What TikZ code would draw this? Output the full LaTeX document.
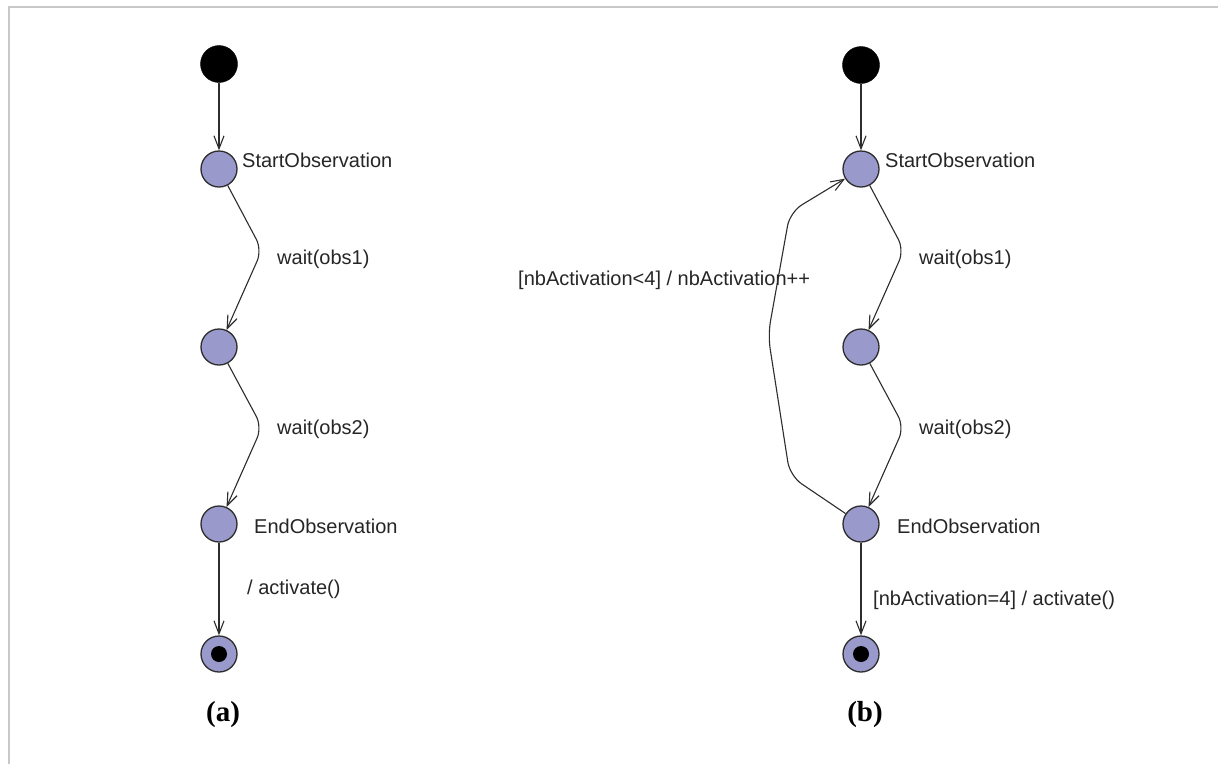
\documentclass[tikz,border=0pt]{standalone}
\usepackage{fontspec}
\setmainfont{Liberation Serif}
\newfontfamily\arialfont{Liberation Sans}
\usetikzlibrary{arrows.meta}
\definecolor{statefill}{RGB}{153,153,204}
\definecolor{edgecol}{RGB}{45,45,45}
\definecolor{framecol}{RGB}{200,200,200}
\tikzset{
  initst/.style={circle, fill=black, draw=black, minimum size=37pt, inner sep=0pt},
  state/.style={circle, fill=statefill, draw=edgecol, line width=1.3pt, minimum size=36pt, inner sep=0pt},
  finalst/.style={circle, fill=statefill, draw=edgecol, line width=1.3pt, minimum size=36pt, inner sep=0pt},
  dotst/.style={circle, fill=black, minimum size=16pt, inner sep=0pt},
  tr/.style={draw=edgecol, line width=1.1pt, -{Straight Barb[length=13pt,width=10pt,line width=1.1pt]}},
  lbl/.style={font=\arialfont\fontsize{20}{24}\selectfont, text=black!85, inner sep=0pt, anchor=base west},
  figcaption/.style={font=\bfseries\fontsize{29}{34}\selectfont, inner sep=0pt}
}
\begin{document}
\begin{tikzpicture}[x=1pt,y=-1pt]
\useasboundingbox (0,0) rectangle (1218,764);
\fill[white] (0,0) rectangle (1218,764);
\draw[framecol, line width=2pt] (9,764) -- (9,7) -- (1218,7);

% ---------- (a) ----------
\node[initst] (ia) at (219,64) {};
\node[state] (sa) at (219,169) {};
\node[state] (ma) at (219,347) {};
\node[state] (ea) at (219,524) {};
\node[finalst] (fa) at (219,654) {};
\node[dotst] (da) at (219,654) {};
\coordinate (ba1) at (262,250);
\coordinate (ba2) at (262,427);

\draw[tr] (ia) -- (sa);
\draw[tr, rounded corners=12pt] (sa) -- (ba1) -- (ma);
\draw[tr, rounded corners=12pt] (ma) -- (ba2) -- (ea);
\draw[tr] (ea) -- (fa);

\node[lbl] (la1) at (242,167) {StartObservation};
\node[lbl] (la2) at (277,264) {wait(obs1)};
\node[lbl] (la3) at (277,434) {wait(obs2)};
\node[lbl] (la4) at (254,533) {EndObservation};
\node[lbl] (la5) at (247,594) {/ activate()};
\node[figcaption] (capa) at (223,715) {(a)};

% ---------- (b) ----------
\node[initst] (ib) at (861,65) {};
\node[state] (sb) at (861,169) {};
\node[state] (mb) at (861,347) {};
\node[state] (eb) at (861,524) {};
\node[finalst] (fb) at (861,654) {};
\node[dotst] (db) at (861,654) {};
\coordinate (bb1) at (904,250);
\coordinate (bb2) at (904,427);
\coordinate (lp1) at (790,476);
\coordinate (lp2) at (768,335);
\coordinate (lp3) at (790,212);

\draw[tr] (ib) -- (sb);
\draw[tr, rounded corners=12pt] (sb) -- (bb1) -- (mb);
\draw[tr, rounded corners=12pt] (mb) -- (bb2) -- (eb);
\draw[tr] (eb) -- (fb);
\draw[tr, rounded corners=14pt] (eb) -- (lp1) -- (lp2) -- (lp3) -- (sb);

\node[lbl] (lb1) at (885,167) {StartObservation};
\node[lbl] (lb2) at (919,264) {wait(obs1)};
\node[lbl] (lb3) at (919,434) {wait(obs2)};
\node[lbl] (lb4) at (897,533) {EndObservation};
\node[lbl] (lb5) at (873,605) {[nbActivation=4] / activate()};
\node[lbl] (lb6) at (518,285) {[nbActivation<4] / nbActivation++};
\node[figcaption] (capb) at (865,715) {(b)};
\end{tikzpicture}
\end{document}
